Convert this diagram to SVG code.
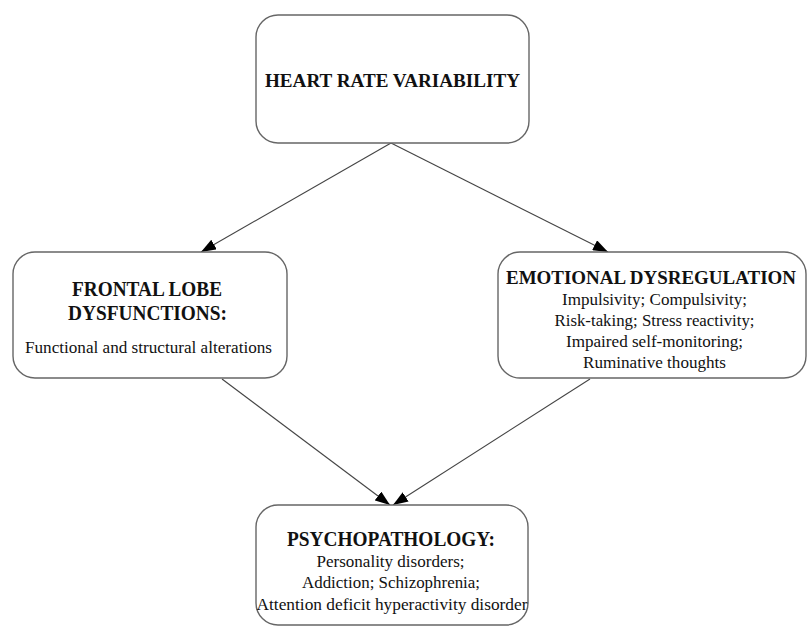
<svg xmlns="http://www.w3.org/2000/svg" width="807" height="627" viewBox="0 0 807 627">
<defs>
<marker id="arr" viewBox="0 0 15 11" refX="15" refY="5.5" markerWidth="15" markerHeight="11" markerUnits="userSpaceOnUse" orient="auto">
<path d="M0,0 L15,5.5 L0,11 Z" fill="#000"/>
</marker>
<style>
.box{fill:#fff;stroke:#666;stroke-width:1.4}
.t{font-family:"Liberation Serif","Times New Roman",serif;fill:#111;text-anchor:middle}
.h{font-weight:bold;font-size:19px}
.h2{font-weight:bold;font-size:20.5px}
.b{font-size:16px}
.edge{stroke:#444;stroke-width:1.1;fill:none;marker-end:url(#arr)}
</style>
</defs>
<rect width="807" height="627" fill="#fff"/>
<g id="connectors">
<line class="edge" x1="391" y1="143" x2="201" y2="252"/>
<line class="edge" x1="391" y1="143" x2="608" y2="252"/>
<line class="edge" x1="222" y1="379" x2="390" y2="505"/>
<line class="edge" x1="590" y1="379" x2="393" y2="505"/>
</g>
<g id="hrv">
<rect class="box" x="256" y="15" width="273" height="128" rx="22"/>
<text class="t h" x="392.5" y="87" textLength="255" lengthAdjust="spacingAndGlyphs">HEART RATE VARIABILITY</text>
</g>
<g id="frontal">
<rect class="box" x="13" y="252" width="274" height="126" rx="22"/>
<text class="t h2" x="147" y="296" textLength="150" lengthAdjust="spacingAndGlyphs">FRONTAL LOBE</text>
<text class="t h2" x="147.5" y="320" textLength="159" lengthAdjust="spacingAndGlyphs">DYSFUNCTIONS:</text>
<text class="t b" x="148.5" y="353" textLength="247" lengthAdjust="spacingAndGlyphs">Functional and structural alterations</text>
</g>
<g id="emotional">
<rect class="box" x="498" y="252" width="308" height="126" rx="22"/>
<text class="t h" x="651" y="284" textLength="290" lengthAdjust="spacingAndGlyphs" style="font-size:19px">EMOTIONAL DYSREGULATION</text>
<text class="t b" x="654.5" y="305" textLength="185" lengthAdjust="spacingAndGlyphs">Impulsivity; Compulsivity;</text>
<text class="t b" x="654.5" y="326" textLength="200" lengthAdjust="spacingAndGlyphs">Risk-taking; Stress reactivity;</text>
<text class="t b" x="654.5" y="347" textLength="177" lengthAdjust="spacingAndGlyphs">Impaired self-monitoring;</text>
<text class="t b" x="654.5" y="368" textLength="143" lengthAdjust="spacingAndGlyphs">Ruminative thoughts</text>
</g>
<g id="psychopathology">
<rect class="box" x="256" y="505" width="272" height="120" rx="22"/>
<text class="t h2" x="391" y="546" textLength="208" lengthAdjust="spacingAndGlyphs">PSYCHOPATHOLOGY:</text>
<text class="t b" x="390.5" y="567" textLength="148" lengthAdjust="spacingAndGlyphs">Personality disorders;</text>
<text class="t b" x="391" y="588" textLength="178" lengthAdjust="spacingAndGlyphs">Addiction; Schizophrenia;</text>
<text class="t b" x="392" y="610" textLength="271" lengthAdjust="spacingAndGlyphs">Attention deficit hyperactivity disorder</text>
</g>
</svg>
